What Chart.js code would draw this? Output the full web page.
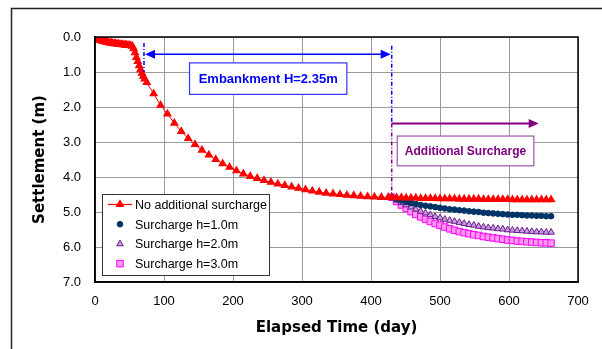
<!DOCTYPE html>
<html>
<head>
<meta charset="utf-8">
<script src="https://cdn.jsdelivr.net/npm/chart.js@4"></script>
<style>
  html, body { margin: 0; padding: 0; background: #fff; }
  canvas { display: block; }
</style>
</head>
<body>
<canvas id="chart" width="602" height="349"></canvas>
<script>
// no additional surcharge (embankment + consolidation)
const redDays = [
  0, 2, 4, 6, 8, 10, 12, 14, 16, 18, 20, 22, 24, 26, 28, 30, 32, 34, 36, 38, 40, 42, 44, 46, 48, 50, 52, 54,
  56, 58, 60, 62, 64, 66, 68, 70, 72,
  75, 85, 95, 105, 115, 125, 135, 145, 155, 165, 175, 185, 195, 205, 215, 225, 235, 245, 255, 265,
  275, 285, 295, 305, 315, 325, 335, 345, 355, 365, 375, 385, 395, 405, 415, 425,
  430, 437, 444, 451, 458, 465, 472, 479, 486, 493, 500, 507, 514, 521, 528, 535, 542,
  549, 556, 563, 570, 577, 584, 591, 598, 605, 612, 619, 626, 633, 640, 647, 654, 661,
];
const redSettle = [
  0.0, 0.03, 0.06, 0.08, 0.10, 0.11, 0.12, 0.13, 0.14, 0.15, 0.16, 0.17, 0.17, 0.18, 0.19, 0.19, 0.20, 0.20,
  0.21, 0.21, 0.22, 0.22, 0.23, 0.23, 0.24, 0.24, 0.25, 0.26,
  0.33, 0.45, 0.58, 0.70, 0.82, 0.93, 1.03, 1.12, 1.20,
  1.30, 1.62, 1.95, 2.20, 2.46, 2.70, 2.90, 3.07, 3.23, 3.37, 3.50, 3.62, 3.72, 3.82, 3.91, 3.98, 4.04,
  4.10, 4.15, 4.20, 4.24, 4.28, 4.32, 4.36, 4.40, 4.43, 4.46, 4.48, 4.50, 4.52, 4.53, 4.55, 4.56, 4.57,
  4.58, 4.58,
  4.58, 4.59, 4.59, 4.60, 4.60, 4.60, 4.61, 4.61, 4.61, 4.61, 4.62, 4.62, 4.62, 4.62, 4.63, 4.63, 4.63,
  4.63, 4.63, 4.64, 4.64, 4.64, 4.64, 4.64, 4.64, 4.65, 4.65, 4.65, 4.65, 4.65, 4.65, 4.65, 4.65, 4.65,
];

// after day 430 the surcharge cases
const surchargeDays = [
  430, 437, 444, 451, 458, 465, 472, 479, 486, 493, 500, 507, 514, 521, 528, 535, 542,
  549, 556, 563, 570, 577, 584, 591, 598, 605, 612, 619, 626, 633, 640, 647, 654, 661,
];
const surcharge1 = [
  4.58, 4.63, 4.67, 4.71, 4.74, 4.77, 4.80, 4.82, 4.84, 4.86, 4.88, 4.90, 4.92, 4.93, 4.95, 4.96, 4.98,
  4.99, 5.00, 5.02, 5.03, 5.04, 5.05, 5.06, 5.07, 5.08, 5.08, 5.09, 5.10, 5.10, 5.11, 5.11, 5.12, 5.12,
];
const surcharge2 = [
  4.58, 4.66, 4.73, 4.80, 4.86, 4.92, 4.98, 5.03, 5.08, 5.13, 5.17, 5.21, 5.24, 5.27, 5.30, 5.33, 5.36,
  5.38, 5.41, 5.43, 5.45, 5.46, 5.48, 5.49, 5.51, 5.52, 5.53, 5.54, 5.55, 5.56, 5.57, 5.57, 5.58, 5.58,
];
const surcharge3 = [
  4.58, 4.70, 4.80, 4.90, 4.99, 5.07, 5.14, 5.21, 5.27, 5.33, 5.38, 5.43, 5.48, 5.52, 5.56, 5.59, 5.62,
  5.65, 5.67, 5.70, 5.72, 5.74, 5.76, 5.78, 5.80, 5.81, 5.83, 5.84, 5.85, 5.86, 5.87, 5.88, 5.88, 5.89,
];

const seriesLabels = [
  "No additional surcharge",
  "Surcharge h=1.0m",
  "Surcharge h=2.0m",
  "Surcharge h=3.0m",
];

// annotation positions in data units (day, settlement)
const embankStart = 71;
const embankEnd = 430;
const embankArrowY = 0.49;
const surchargeArrowEnd = 643;
const surchargeArrowY = 2.47;
const embankBox = { x0: 137, x1: 365, y0: 0.74, y1: 1.64, text: "Embankment H=2.35m" };
const surchargeBox = { x0: 438, x1: 636, y0: 2.83, y1: 3.68, text: "Additional Surcharge" };

const FONT = "'Liberation Sans', Arial, sans-serif";
const TITLE_FONT = "'DejaVu Sans', Verdana, sans-serif";

function toPoints(xs, ys) {
  return xs.map((x, i) => ({ x, y: ys[i] }));
}

function arrowHead(ctx, x, y, dir, color) {
  ctx.fillStyle = color;
  ctx.beginPath();
  ctx.moveTo(x, y);
  ctx.lineTo(x - dir * 10, y - 4.5);
  ctx.lineTo(x - dir * 10, y + 4.5);
  ctx.closePath();
  ctx.fill();
}

function vDashDot(ctx, x, y0, y1, color) {
  ctx.save();
  ctx.strokeStyle = color;
  ctx.lineWidth = 1.5;
  ctx.setLineDash([4, 2, 1, 2]);
  ctx.beginPath();
  ctx.moveTo(x, y0);
  ctx.lineTo(x, y1);
  ctx.stroke();
  ctx.restore();
}

function textBox(ctx, xs, ys, box, border, color, size) {
  const l = xs.getPixelForValue(box.x0), r = xs.getPixelForValue(box.x1);
  const t = ys.getPixelForValue(box.y0), b = ys.getPixelForValue(box.y1);
  ctx.fillStyle = "#fff";
  ctx.fillRect(l, t, r - l, b - t);
  ctx.strokeStyle = border;
  ctx.lineWidth = 1.2;
  ctx.strokeRect(l, t, r - l, b - t);
  ctx.fillStyle = color;
  ctx.font = `bold ${size}px ${FONT}`;
  ctx.textAlign = "center";
  ctx.textBaseline = "middle";
  ctx.fillText(box.text, (l + r) / 2, (t + b) / 2 + 1);
}

const framePlugin = {
  id: "frame",
  beforeDraw(chart) {
    const ctx = chart.ctx;
    ctx.save();
    ctx.fillStyle = "#fff";
    ctx.fillRect(0, 0, chart.width, chart.height);
    ctx.strokeStyle = "#222";
    ctx.lineWidth = 1.5;
    ctx.beginPath();
    ctx.moveTo(11.5, chart.height);
    ctx.lineTo(11.5, 8.5);
    ctx.lineTo(chart.width, 8.5);
    ctx.stroke();
    ctx.restore();
  },
  afterDraw(chart) {
    const ctx = chart.ctx;
    const xs = chart.scales.x, ys = chart.scales.y;
    const a = chart.chartArea;
    ctx.save();
    ctx.strokeStyle = "#000";
    ctx.lineWidth = 1.5;
    ctx.strokeRect(a.left, a.top, a.right - a.left, a.bottom - a.top);

    // embankment span
    const blue = "#0000ff";
    const xe0 = xs.getPixelForValue(embankStart);
    const xe1 = xs.getPixelForValue(embankEnd);
    const ya = ys.getPixelForValue(embankArrowY);
    vDashDot(ctx, xe0, ys.getPixelForValue(0.17), ys.getPixelForValue(1.0), blue);
    vDashDot(ctx, xe1, ys.getPixelForValue(0.25), ys.getPixelForValue(surchargeArrowY), blue);
    ctx.strokeStyle = blue;
    ctx.lineWidth = 1.5;
    ctx.beginPath();
    ctx.moveTo(xe0 + 4, ya);
    ctx.lineTo(xe1 - 4, ya);
    ctx.stroke();
    arrowHead(ctx, xe0 + 1, ya, -1, blue);
    arrowHead(ctx, xe1 - 1, ya, 1, blue);

    // surcharge span
    const purple = "#800080";
    const ys1 = ys.getPixelForValue(surchargeArrowY);
    const xs1 = xs.getPixelForValue(surchargeArrowEnd);
    vDashDot(ctx, xe1, ys1, ys.getPixelForValue(4.5), purple);
    ctx.strokeStyle = purple;
    ctx.lineWidth = 2;
    ctx.beginPath();
    ctx.moveTo(xe1, ys1);
    ctx.lineTo(xs1 - 4, ys1);
    ctx.stroke();
    arrowHead(ctx, xs1, ys1, 1, purple);

    textBox(ctx, xs, ys, embankBox, "#3333ff", "#0000ff", 13);
    textBox(ctx, xs, ys, surchargeBox, "#a050b0", "#800080", 12);

    // legend
    const lx = a.left + 7, ly = a.top + 157, lw = 167, lh = 81;
    ctx.fillStyle = "#fff";
    ctx.fillRect(lx, ly, lw, lh);
    ctx.strokeStyle = "#333";
    ctx.lineWidth = 1;
    ctx.strokeRect(lx + 0.5, ly + 0.5, lw, lh);
    chart.data.datasets.forEach((ds, i) => {
      const cy = ly + 10.5 + i * 19.7;
      const cx = lx + 18;
      if (ds.showLine !== false) {
        ctx.strokeStyle = ds.borderColor;
        ctx.lineWidth = 1.2;
        ctx.beginPath();
        ctx.moveTo(cx - 12, cy);
        ctx.lineTo(cx + 12, cy);
        ctx.stroke();
      }
      ctx.fillStyle = ds.pointBackgroundColor;
      ctx.strokeStyle = ds.pointBorderColor;
      ctx.lineWidth = ds.pointBorderWidth;
      Chart.helpers.drawPoint(ctx, { pointStyle: ds.pointStyle, radius: ds.pointRadius, rotation: 0, borderWidth: ds.pointBorderWidth }, cx, cy);
      ctx.fillStyle = "#000";
      ctx.font = `12.5px ${FONT}`;
      ctx.textAlign = "left";
      ctx.textBaseline = "middle";
      ctx.fillText(ds.label, lx + 33, cy + 1);
    });
    ctx.restore();
  },
};

new Chart(document.getElementById("chart"), {
  type: "scatter",
  data: {
    datasets: [
      {
        label: seriesLabels[0],
        data: toPoints(redDays, redSettle),
        showLine: true,
        borderColor: "#ff0000",
        borderWidth: 1,
        pointStyle: "triangle",
        pointRadius: 4,
        pointBackgroundColor: "#ff0000",
        pointBorderColor: "#ff0000",
        pointBorderWidth: 1.2,
      },
      {
        label: seriesLabels[1],
        data: toPoints(surchargeDays, surcharge1),
        showLine: false,
        borderColor: "#003366",
        pointStyle: "circle",
        pointRadius: 2.8,
        pointBackgroundColor: "#003366",
        pointBorderColor: "#003366",
        pointBorderWidth: 1,
      },
      {
        label: seriesLabels[2],
        data: toPoints(surchargeDays, surcharge2),
        showLine: false,
        borderColor: "#7030a0",
        pointStyle: "triangle",
        pointRadius: 3.8,
        pointBackgroundColor: "#c89ee0",
        pointBorderColor: "#6a1b8a",
        pointBorderWidth: 1,
      },
      {
        label: seriesLabels[3],
        data: toPoints(surchargeDays, surcharge3),
        showLine: false,
        borderColor: "#ff00ff",
        pointStyle: "rect",
        pointRadius: 4.6,
        pointBackgroundColor: "#ff99ee",
        pointBorderColor: "#ff00ff",
        pointBorderWidth: 1,
      },
    ],
  },
  options: {
    responsive: false,
    animation: false,
    devicePixelRatio: 1,
    layout: { padding: { left: 26, right: 24, top: 37, bottom: 10 } },
    plugins: {
      legend: { display: false },
      tooltip: { enabled: false },
    },
    scales: {
      x: {
        type: "linear",
        min: 0,
        max: 700,
        afterFit: (scale) => { scale.height = 57; },
        ticks: {
          stepSize: 100,
          color: "#000",
          padding: 12,
          font: { family: FONT, size: 13 },
        },
        grid: { color: "#9a9a9a", drawTicks: false },
        border: { color: "#000", width: 1.5 },
        title: {
          display: true,
          text: "Elapsed Time (day)",
          color: "#000",
          padding: { top: 0, bottom: 2 },
          font: { family: TITLE_FONT, size: 15, weight: "bold" },
        },
      },
      y: {
        reverse: true,
        min: 0,
        max: 7,
        afterFit: (scale) => { scale.width = 69; },
        ticks: {
          stepSize: 1,
          color: "#000",
          padding: 14,
          font: { family: FONT, size: 13 },
          callback: (v) => v.toFixed(1),
        },
        grid: { color: "#9a9a9a", drawTicks: false },
        border: { color: "#000", width: 1.5 },
        title: {
          display: true,
          text: "Settlement (m)",
          color: "#000",
          padding: { top: 5, bottom: 0 },
          font: { family: TITLE_FONT, size: 15, weight: "bold" },
        },
      },
    },
  },
  plugins: [framePlugin],
});
</script>
</body>
</html>
